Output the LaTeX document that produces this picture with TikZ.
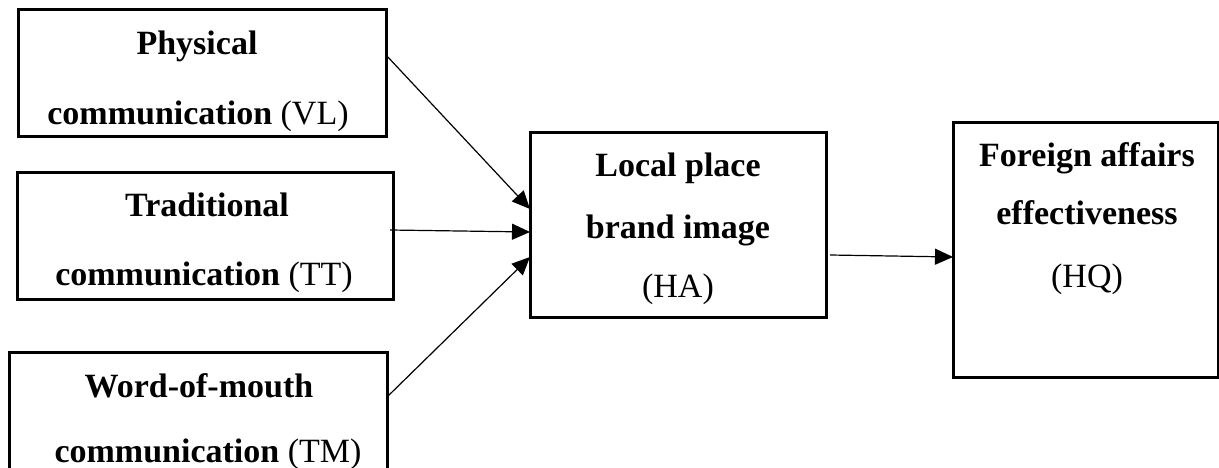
\documentclass[tikz,border=0pt]{standalone}
\usepackage{fontspec}
\setmainfont{Liberation Serif}
\usetikzlibrary{arrows.meta}
\begin{document}
\begin{tikzpicture}[x=1pt,y=-1pt,
  box/.style={draw=black, line width=3pt, rectangle, inner sep=0pt, outer sep=0pt},
  lbl/.style={anchor=base, inner sep=0pt, font=\fontsize{34}{40}\selectfont},
  arr/.style={line width=1.2pt, -{Triangle[length=18pt,width=16pt]}}]
\useasboundingbox (0,0) rectangle (1219,468);
% boxes
\node[box, minimum width=368pt, minimum height=127pt] (b1) at (202,73.5) {};
\node[box, minimum width=376pt, minimum height=126pt] (b2) at (205,236) {};
\node[box, minimum width=378pt, minimum height=138pt] (b3) at (198,421) {};
\node[box, minimum width=296pt, minimum height=184pt] (ha) at (678,225) {};
\node[box, minimum width=265pt, minimum height=254pt] (hq) at (1085.5,250) {};
% texts
\node[lbl] (t1a) at (197,55) {\textbf{Physical}};
\node[lbl] (t1b) at (198,125) {\textbf{communication} (VL)};
\node[lbl] (t2a) at (207,217) {\textbf{Traditional}};
\node[lbl] (t2b) at (204,285) {\textbf{communication} (TT)};
\node[lbl] (t3a) at (199,397) {\textbf{Word-of-mouth}};
\node[lbl] (t3b) at (208,462) {\textbf{communication} (TM)};
\node[lbl] (t4a) at (678,177) {\textbf{Local place}};
\node[lbl] (t4b) at (678,238) {\textbf{brand image}};
\node[lbl] (t4c) at (678,297) {(HA)};
\node[lbl] (t5a) at (1087,167) {\textbf{Foreign affairs}};
\node[lbl] (t5b) at (1087,225) {\textbf{effectiveness}};
\node[lbl] (t5c) at (1087,287) {(HQ)};
% arrows
\draw[arr] ([yshift=-45pt]b1.north east) -- ([yshift=-76pt]ha.north west);
\draw[arr] ([xshift=-3pt,yshift=6pt]b2.east) -- ([yshift=-99pt]ha.north west);
\draw[arr] ([yshift=-45pt]b3.north east) -- ([yshift=-124pt]ha.north west);
\draw[arr] ([xshift=4pt,yshift=-122pt]ha.north east) -- ([yshift=-134pt]hq.north west);
\end{tikzpicture}
\end{document}
